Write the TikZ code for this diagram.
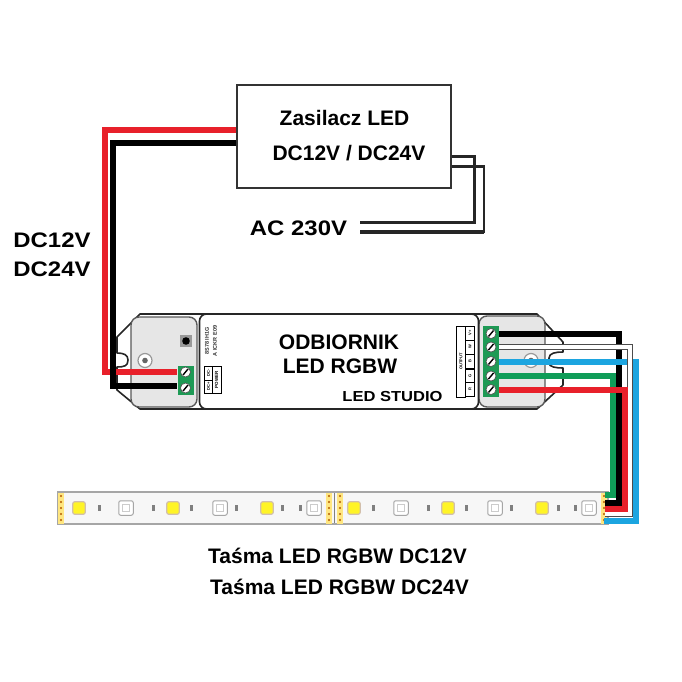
\documentclass[tikz,border=0pt]{standalone}
\usepackage{fontspec}
\setmainfont{Liberation Sans}
\newfontfamily\widefont[FakeStretch=1.14]{Liberation Sans}
\definecolor{wred}{HTML}{E8202A}
\definecolor{wgreen}{HTML}{0F9D58}
\definecolor{wblue}{HTML}{1CA5E0}
\definecolor{tgreen}{HTML}{1E9A55}
\definecolor{tray}{HTML}{E6E6E6}
\tikzset{
  lbl/.style={font=\bfseries\fontsize{#1}{#1}\selectfont,inner sep=0pt,text=black},
  wlbl/.style={font=\widefont\bfseries\fontsize{#1}{#1}\selectfont,inner sep=0pt,text=black},
  box/.style={draw=black!80,line width=1.6pt,fill=white,inner sep=0pt,minimum width=214pt,minimum height=103pt},
  term/.style={fill=tgreen,inner sep=0pt,minimum width=16pt},
  wire/.style={line width=6pt,line join=miter},
  shell/.style={draw=black!85,line width=1.6pt},
  trayst/.style={fill=tray,draw=black!65,line width=1.4pt,rounded corners=8pt},
  tiny/.style={font=\bfseries\fontsize{5.5}{5.5}\selectfont,inner sep=0pt,rotate=90,text=black!80},
  cell/.style={draw=black,line width=.8pt,fill=white,inner sep=0pt},
  yled/.style={fill=yellow!85!white,draw=orange!30!gray!50,line width=1.2pt,rounded corners=2pt,minimum size=12.5pt,inner sep=0pt},
  gled/.style={fill=white,draw=black!35,line width=1pt,rounded corners=2pt,minimum size=14.5pt,inner sep=0pt},
  res/.style={fill=black!50,inner sep=0pt,minimum width=3pt,minimum height=6.5pt},
  pad/.style={fill=orange!40!yellow!50!white,inner sep=0pt,minimum width=6pt,minimum height=31pt}
}
\newcommand{\screw}[2]{%
  \fill[white] (#1,#2) circle (5pt);
  \draw[black,line width=1.4pt] (#1-2.5,#2+3) -- (#1+2.5,#2-3);
  \draw[black!70,line width=.6pt] (#1,#2) circle (5pt);}
\begin{document}
\begin{tikzpicture}[x=1pt,y=-1pt]
\useasboundingbox (0,0) rectangle (682,682);
% --- LED strip
\node[draw=black!35,line width=2pt,fill=black!3,inner sep=0pt,minimum width=550pt,minimum height=32pt] (strip) at (333,508) {};
\node[pad] (padA) at (61,508) {};
\node[pad] (padB) at (329,508) {};
\node[pad] (padC) at (340,508) {};
\node[pad] (padD) at (604,508) {};
\foreach \px in {61,329,340,604} \foreach \py in {496,502,508,514,520}
  \fill[orange!70!black] (\px,\py) circle (1.1pt);
\draw[black!50,line width=1pt] (334.5,493) -- (334.5,523);
\foreach \lx in {79,173,267,354,448,542} \node[yled] at (\lx,508) {};
\foreach \lx in {126,220,314,401,495,589} {
  \node[gled] at (\lx,508) {};
  \draw[black!20,line width=.6pt] (\lx-3.5,504.5) rectangle (\lx+3.5,511.5);}
\foreach \lx in {99,153,191,236,282,300,373,428,466,511,558,575} \node[res] at (\lx,508) {};
% --- controller shell
\draw[shell,fill=white,line join=round] (140,314) -- (537,314) -- (563,342) -- (563,352)
  .. controls (556,352) and (549,353) .. (549,358) -- (549,363)
  .. controls (549,367) and (556,368) .. (563,368) -- (563,385) -- (537,409) -- (140,409)
  -- (117,390) -- (117,367) .. controls (124,367) and (128,366) .. (128,360)
  .. controls (128,355) and (124,353) .. (117,353) -- (117,337) -- cycle;
\draw[trayst] (131,317) rectangle (197,407);
\draw[trayst] (479,316) rectangle (545,407);
\node[draw=black!85,line width=1.6pt,rounded corners=7pt,fill=white,inner sep=0pt,minimum width=279pt,minimum height=95pt] (body) at (339,361.5) {};
\fill[black!40] (180,335) rectangle (192,347);
\fill[black] (186,341) circle (3.8pt);
\foreach \hx in {145,531} {
  \draw[black!40,line width=1.2pt,fill=white] (\hx,360.5) circle (7pt);
  \fill[black!60] (\hx,360.5) circle (2.8pt);}
% --- small print on the controller
\node[tiny] at (215,341) {A ICKR E09};
\node[tiny] at (207,341) {8S78 IH1G};
\node[cell,minimum width=7.5pt,minimum height=14pt] (c1) at (208.5,373) {\rotatebox{90}{\bfseries\fontsize{4}{4}\selectfont DC-}};
\node[cell,minimum width=7.5pt,minimum height=13pt] (c2) at (208.5,386.5) {\rotatebox{90}{\bfseries\fontsize{4}{4}\selectfont DC+}};
\node[cell,minimum width=9pt,minimum height=27pt] (c3) at (216.5,379.5) {\rotatebox{90}{\bfseries\fontsize{4.5}{4.5}\selectfont POWER}};
\node[cell,minimum width=9pt,minimum height=71pt] (c4) at (461,361.5) {\rotatebox{90}{\bfseries\fontsize{4}{4}\selectfont OUTPUT}};
\foreach \cy/\ct in {333/V+,347/W,361.5/B,376/G,389.5/R}
  \node[cell,minimum width=9pt,minimum height=14.2pt] at (470,\cy) {\rotatebox{90}{\bfseries\fontsize{4}{4}\selectfont\ct}};
% --- power supply
\node[box] (psu) at (344,136.5) {};
% --- terminals
\node[term,minimum height=29pt] (termL) at (185.5,380.5) {};
\node[term,minimum height=71pt] (termR) at (491,361.5) {};
% --- anchors
\coordinate (tL1) at (termL.west |- 0,372);
\coordinate (tL2) at (termL.west |- 0,386);
\coordinate (rA) at (psu.east |- 0,156);
\coordinate (rB) at (psu.east |- 0,166.5);
\coordinate (ac1) at (360,222);
\coordinate (ac2) at (360,232);
\coordinate (oB) at (termR.east |- 0,333.5);
\coordinate (oW) at (termR.east |- 0,347);
\coordinate (oL) at (termR.east |- 0,361.5);
\coordinate (oG) at (termR.east |- 0,376);
\coordinate (oR) at (termR.east |- 0,389.5);
% --- wires: supply side
\draw[wire,wred] (psu.west |- 0,130) -| (105,372) -- (tL1);
\draw[wire,black] (psu.west |- 0,143) -| (113,386) -- (tL2);
\draw[black!85,line width=3pt] (rA) -| (474,222) -- (ac1);
\draw[black!85,line width=2.6pt] (rB) -| (484,232) -- (ac2);
\draw[black!85,line width=4pt] (484,232) -- (ac2);
% --- wires: output side
\draw[wire,black] (oB) -| (619,503) -- (605,503);
\draw[wire,wblue] (oL) -| (636,520.5) -- (604,520.5);
\draw[line width=6pt,black!70] (oW) -| (630,514) -- (605,514);
\draw[line width=3.6pt,white] (oW) -| (630,514) -- (605,514);
\draw[wire,wgreen] (oG) -| (613,495) -- (605,495);
\draw[wire,wred] (oR) -| (625,508.5) -- (605,508.5);
% --- screws
\screw{185.5}{372}\screw{185.5}{388}
\foreach \sy in {333.5,347,361.5,376,389.5} {\screw{491}{\sy}}
% --- texts
\node[lbl=21] (t1) at (344.5,118) {Zasilacz LED};
\node[lbl=21] (t2) at (349,153) {DC12V / DC24V};
\node[wlbl=21] (t3) at (298.5,228) {AC 230V};
\node[wlbl=21] (t4) at (52,240) {DC12V};
\node[wlbl=21] (t5) at (52,269) {DC24V};
\node[lbl=21] (t6) at (339,342) {ODBIORNIK};
\node[lbl=21] (t7) at (340,366) {LED RGBW};
\node[wlbl=14.5] (t8) at (392.5,397) {LED STUDIO};
\node[lbl=21] (t9) at (337.5,556) {Taśma LED RGBW DC12V};
\node[lbl=21] (t10) at (339.5,587) {Taśma LED RGBW DC24V};
\end{tikzpicture}
\end{document}
